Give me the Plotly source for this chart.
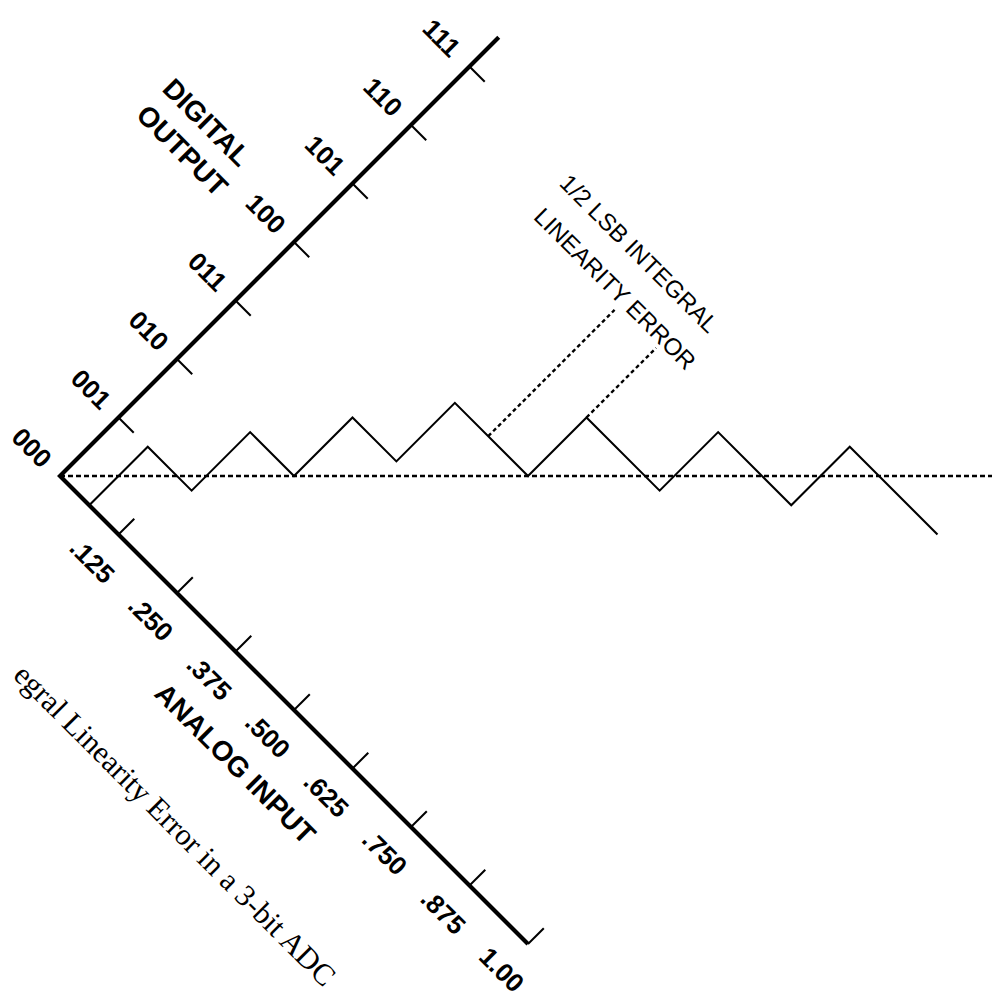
import numpy as np
import plotly.graph_objects as go

# ---- data: analog input (fraction of full scale) vs. 3-bit output code ----
analog_ticks = [0.125, 0.250, 0.375, 0.500, 0.625, 0.750, 0.875, 1.000]
analog_labels = [".125", ".250", ".375", ".500", ".625", ".750", ".875", "1.00"]
codes = [0, 1, 2, 3, 4, 5, 6, 7]
code_labels = ["000", "001", "010", "011", "100", "101", "110", "111"]

# input level at which the output steps up to the next code
transition_inputs = [0.0625, 0.15625, 0.25, 0.34375, 0.5, 0.65625, 0.8125]
full_scale = 1.0

# leader lines of the "1/2 LSB integral linearity error" callout
callout_inputs = [0.415, 0.5]
callout_code_from = [4, 5]
callout_code_to = [6.16, 6.19]

LSB = 1.0 / 8
PX_PER_LSB = 58.5                 # screen length of one LSB along each axis
UNIT = PX_PER_LSB * np.sqrt(2)    # pixels per plot unit
ORIGIN = (60, 476)                # where the two axes meet
W, H = 992, 1004


def rot(analog, code):
    """Transfer-function coordinates -> plot plane, turned by 45 degrees."""
    u = np.asarray(analog, dtype=float) / LSB
    v = np.asarray(code, dtype=float)
    return (u + v) / np.sqrt(2), (v - u) / np.sqrt(2)


def segments(pairs):
    xs, ys = [], []
    for (a0, c0), (a1, c1) in pairs:
        x, y = rot([a0, a1], [c0, c1])
        xs += list(x) + [None]
        ys += list(y) + [None]
    return xs, ys


fig = go.Figure()

# ideal transfer line (dotted)
ix, iy = rot([0, 1.05], [0, 1.05 / LSB])
fig.add_trace(go.Scatter(x=ix, y=iy, mode="lines",
                         line=dict(color="black", width=2.7, dash="5px,3px")))

# actual staircase
st_a, st_c = [transition_inputs[0]], [0]
for k, t in enumerate(transition_inputs):
    st_a += [t, t]
    st_c += [k, k + 1]
st_a.append(full_scale)
st_c.append(codes[-1])
sx, sy = rot(st_a, st_c)
fig.add_trace(go.Scatter(x=sx, y=sy, mode="lines",
                         line=dict(color="black", width=2.1)))

# callout leader lines
lx, ly = segments([((a, c0), (a, c1)) for a, c0, c1 in
                   zip(callout_inputs, callout_code_from, callout_code_to)])
fig.add_trace(go.Scatter(x=lx, y=ly, mode="lines",
                         line=dict(color="black", width=2.4, dash="4px,3px")))

# axes
ax_x, ax_y = rot([0, 0, full_scale], [codes[-1] + 0.5, 0, 0])
fig.add_trace(go.Scatter(x=ax_x, y=ax_y, mode="lines",
                         line=dict(color="black", width=4.2)))

# tick marks
tx, ty = segments([((0, c), (0.26 * LSB, c)) for c in codes[1:]] +
                  [((a, 0), (a, 0.27)) for a in analog_ticks])
fig.add_trace(go.Scatter(x=tx, y=ty, mode="lines",
                         line=dict(color="black", width=2.0)))

SANS = "Liberation Sans, Arial, Helvetica, sans-serif"
SERIF = "Liberation Serif, Times New Roman, serif"


def label(analog, code, text, size, family=SANS):
    x, y = rot(analog, code)
    fig.add_annotation(x=float(x), y=float(y), xref="x", yref="y", text=text,
                       showarrow=False, textangle=45,
                       xanchor="center", yanchor="middle",
                       font=dict(family=family, size=size, color="black"))


for c, t in zip(codes, code_labels):
    label(-0.48 * LSB, c, f"<b>{t}</b>", 26)
for a, t in zip(analog_ticks, analog_labels):
    label(a, -0.45, f"<b>{t}</b>", 26)

# axis titles
label(-1.77 * LSB, 4.28, "<b>DIGITAL</b>", 28)
label(-1.74 * LSB, 3.83, "<b>OUTPUT</b>", 28)
label(3.95 * LSB, -0.957, "<b>ANALOG INPUT</b>", 28)

# callout text
label(3.05 * LSB, 6.85, "1/2 LSB INTEGRAL", 24)
label(3.14 * LSB, 6.35, "LINEARITY ERROR", 24)

# caption running along the lower left
label(3.96 * LSB, -2.0, "egral Linearity Error in a 3-bit ADC", 30.5, family=SERIF)

x0 = -ORIGIN[0] / UNIT
x1 = (W - ORIGIN[0]) / UNIT
y1 = ORIGIN[1] / UNIT
y0 = -(H - ORIGIN[1]) / UNIT

fig.update_layout(
    width=W, height=H,
    margin=dict(l=0, r=0, t=0, b=0),
    paper_bgcolor="white", plot_bgcolor="white",
    showlegend=False,
    xaxis=dict(range=[x0, x1], visible=False, fixedrange=True),
    yaxis=dict(range=[y0, y1], visible=False, fixedrange=True),
)

fig.write_html("out.html")
